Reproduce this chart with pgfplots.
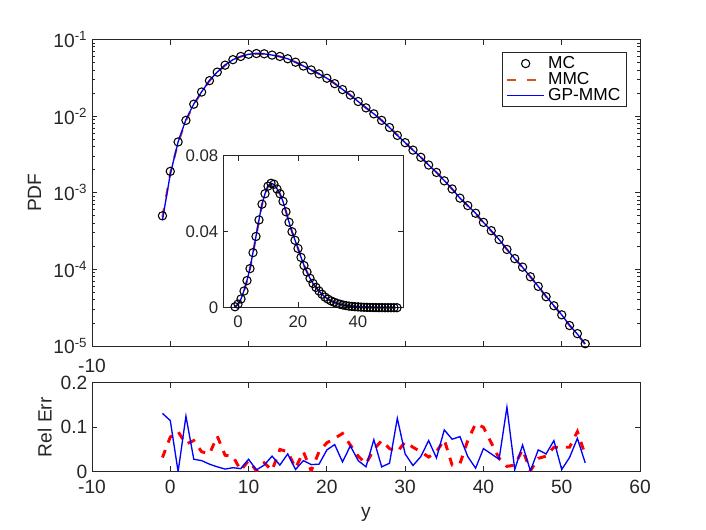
\documentclass[border=0pt]{standalone}
\usepackage{pgfplots}
\pgfplotsset{compat=1.18}
\usepackage{pgfplotstable}
\usepackage{fontspec}
\setmainfont{Liberation Sans}
\definecolor{mmcorange}{rgb}{0.85,0.325,0.098}
\definecolor{axgray}{rgb}{0.15,0.15,0.15}
\pgfplotsset{
  markleg/.style={legend image code/.code={\path (0pt,0pt) (28pt,0pt); \draw[##1] plot coordinates {(14pt,0pt)};}},
  lineleg/.style={legend image code/.code={\draw[##1] (0pt,0pt) -- (28pt,0pt);}},
}

\pgfplotstableread{
x mc mmc gp
-1 5.0e-4 4.85e-4 4.4e-4
0 1.9e-3 1.8e-3 1.75e-3
1 4.6e-3 4.5e-3 4.6e-3
2 8.8e-3 8.7e-3 9.0e-3
3 0.0143 0.0142 0.0144
4 0.0206 0.0205 0.0207
5 0.0290 0.0288 0.0291
6 0.0375 0.0372 0.0376
7 0.0462 0.0460 0.0463
8 0.0545 0.0543 0.0545
9 0.0600 0.0598 0.0600
10 0.0640 0.0640 0.0641
11 0.0655 0.0653 0.0655
12 0.0650 0.0648 0.0649
13 0.0625 0.0624 0.0626
14 0.0600 0.0598 0.0599
15 0.0560 0.0558 0.0560
16 0.0505 0.0506 0.0505
17 0.0450 0.0450 0.0451
18 0.0400 0.0399 0.0400
19 0.0355 0.0355 0.0356
20 0.0312 0.0313 0.0312
21 0.0265 0.0266 0.0266
22 0.0222 0.0224 0.0223
23 0.0188 0.0188 0.0187
24 0.0155 0.0156 0.0155
25 0.0128 0.0128 0.0128
26 0.0107 0.0107 0.0107
27 0.0088 0.0088 0.0088
28 0.0071 0.0071 0.0071
29 0.0056 0.0057 0.0056
30 0.0045 0.0045 0.0045
31 0.0036 0.0036 0.0036
32 0.0029 0.0029 0.0029
33 0.0023 0.0023 0.0023
34 0.00184 0.00185 0.00184
35 0.00143 0.00144 0.00144
36 0.00112 0.00112 0.00112
37 8.5e-4 8.6e-4 8.5e-4
38 6.8e-4 6.75e-4 6.8e-4
39 5.4e-4 5.3e-4 5.4e-4
40 4.1e-4 4.05e-4 4.1e-4
41 3.2e-4 3.15e-4 3.2e-4
42 2.45e-4 2.44e-4 2.45e-4
43 1.82e-4 1.82e-4 1.83e-4
44 1.38e-4 1.38e-4 1.38e-4
45 1.07e-4 1.06e-4 1.06e-4
46 8.0e-5 8.0e-5 8.0e-5
47 6.0e-5 6.0e-5 6.0e-5
48 4.4e-5 4.4e-5 4.45e-5
49 3.35e-5 3.33e-5 3.35e-5
50 2.55e-5 2.55e-5 2.55e-5
51 1.85e-5 1.86e-5 1.86e-5
52 1.45e-5 1.42e-5 1.43e-5
53 1.07e-5 1.05e-5 1.06e-5
}\pdfdata

\pgfplotstableread{
x mmc gp
-1 0.032 0.131
0 0.078 0.115
1 0.090 0.000
2 0.062 0.125
3 0.070 0.028
4 0.045 0.025
5 0.040 0.017
6 0.080 0.011
7 0.037 0.006
8 0.035 0.009
9 0.003 0.007
10 0.025 0.028
11 0.002 0.004
12 0.020 0.015
13 0.003 0.035
14 0.050 0.015
15 0.045 0.040
16 0.008 0.005
17 0.045 0.025
18 0.002 0.016
19 0.045 0.017
20 0.065 0.049
21 0.075 0.061
22 0.086 0.022
23 0.060 0.058
24 0.035 0.025
25 0.018 0.011
26 0.050 0.072
27 0.070 0.011
28 0.052 0.019
29 0.045 0.120
30 0.067 0.040
31 0.055 0.014
32 0.045 0.034
33 0.033 0.070
34 0.045 0.031
35 0.072 0.094
36 0.015 0.073
37 0.018 0.079
38 0.070 0.034
39 0.108 0.008
40 0.100 0.052
41 0.065 0.040
42 0.030 0.028
43 0.012 0.145
44 0.015 0.005
45 0.050 0.060
46 0.002 0.002
47 0.030 0.049
48 0.035 0.040
49 0.055 0.070
50 0.055 0.005
51 0.055 0.032
52 0.090 0.075
53 0.038 0.020
}\errdata

\begin{document}
\begin{tikzpicture}
\path[use as bounding box] (0pt,0pt) rectangle (529.5pt,397.5pt);
\pgfplotsset{
  every axis/.append style={
    font=\fontsize{14.4}{16}\selectfont,
    scale only axis,
    axis line style={axgray, line width=0.6pt},
    every tick/.style={axgray, line width=0.6pt},
    major tick length=4pt, minor tick length=2.4pt,
    tick align=inside,
    scaled ticks=false,
    /pgf/number format/assume math mode=true,
    ticklabel style={text=axgray},
    label style={text=axgray},
    xticklabel style={yshift=-2.5pt},
  },
}
% main axis
\begin{axis}[
  at={(69pt,138pt)}, anchor=south west,
  width=411pt, height=229.9pt,
  ymode=log, log basis y=10,
  xmin=-10, xmax=60, ymin=1e-5, ymax=1e-1,
  xtick={-10,0,10,20,30,40,50,60},
  xticklabels={-10,{},{},{},{},{},{},{}},
  xticklabel style={yshift=-4pt},
  yticklabel={10\textsuperscript{\pgfmathparse{int(round(\tick))}\pgfmathresult}},
  ylabel={PDF},
  ylabel style={at={(axis description cs:-0.105,0.5)}, anchor=center},
  legend style={at={(1,1)}, anchor=north east, xshift=-10pt, yshift=-9.5pt,
    draw=axgray, line width=0.6pt, inner xsep=2.5pt, inner ysep=1pt,
    row sep=-2.5pt, font=\fontsize{13}{15}\selectfont, text=black},
  legend cell align=left,
]
\addplot[only marks, mark=o, mark size=3.1pt, mark options={black, line width=0.8pt}, markleg]
  table[x=x,y=mc]{\pdfdata};
\addlegendentry{MC}
\addplot[mmcorange, line width=1.6pt, dash pattern=on 6.75pt off 8.25pt, lineleg]
  table[x=x,y=mmc]{\pdfdata};
\addlegendentry{MMC}
\addplot[blue, line width=1pt, lineleg]
  table[x=x,y=gp]{\pdfdata};
\addlegendentry{GP-MMC}
\end{axis}
% inset
\begin{axis}[
  at={(167.25pt,166.7pt)}, anchor=south west,
  width=135pt, height=114pt,
  font=\fontsize{12.6}{14}\selectfont,
  xticklabel style={yshift=0pt},
  xmin=-5, xmax=55, ymin=0, ymax=0.08,
  xtick={0,20,40}, ytick={0,0.04,0.08},
  yticklabels={0,0.04,0.08},
  axis background/.style={fill=white},
]
\addplot[only marks, mark=o, mark size=3.1pt, mark options={black, line width=0.8pt}]
  table[x=x,y=mc]{\pdfdata};
\addplot[mmcorange, line width=1.6pt, dash pattern=on 6.75pt off 8.25pt]
  table[x=x,y=mmc]{\pdfdata};
\addplot[blue, line width=1pt] table[x=x,y=gp]{\pdfdata};
\end{axis}
% bottom axis
\begin{axis}[
  at={(69pt,43.7pt)}, anchor=south west,
  width=411pt, height=66.75pt,
  xmin=-10, xmax=60, ymin=0, ymax=0.2,
  xtick={-10,0,10,20,30,40,50,60},
  ytick={0,0.1,0.2}, yticklabels={0,0.1,0.2},
  xlabel={y}, ylabel={Rel Err},
  xlabel style={yshift=-3.5pt},
  ylabel style={at={(axis description cs:-0.086,0.5)}, anchor=center},
]
\addplot[red, line width=2.2pt, dash pattern=on 6pt off 6pt] table[x=x,y=mmc]{\errdata};
\addplot[blue, line width=1pt] table[x=x,y=gp]{\errdata};
\end{axis}
\end{tikzpicture}
\end{document}
